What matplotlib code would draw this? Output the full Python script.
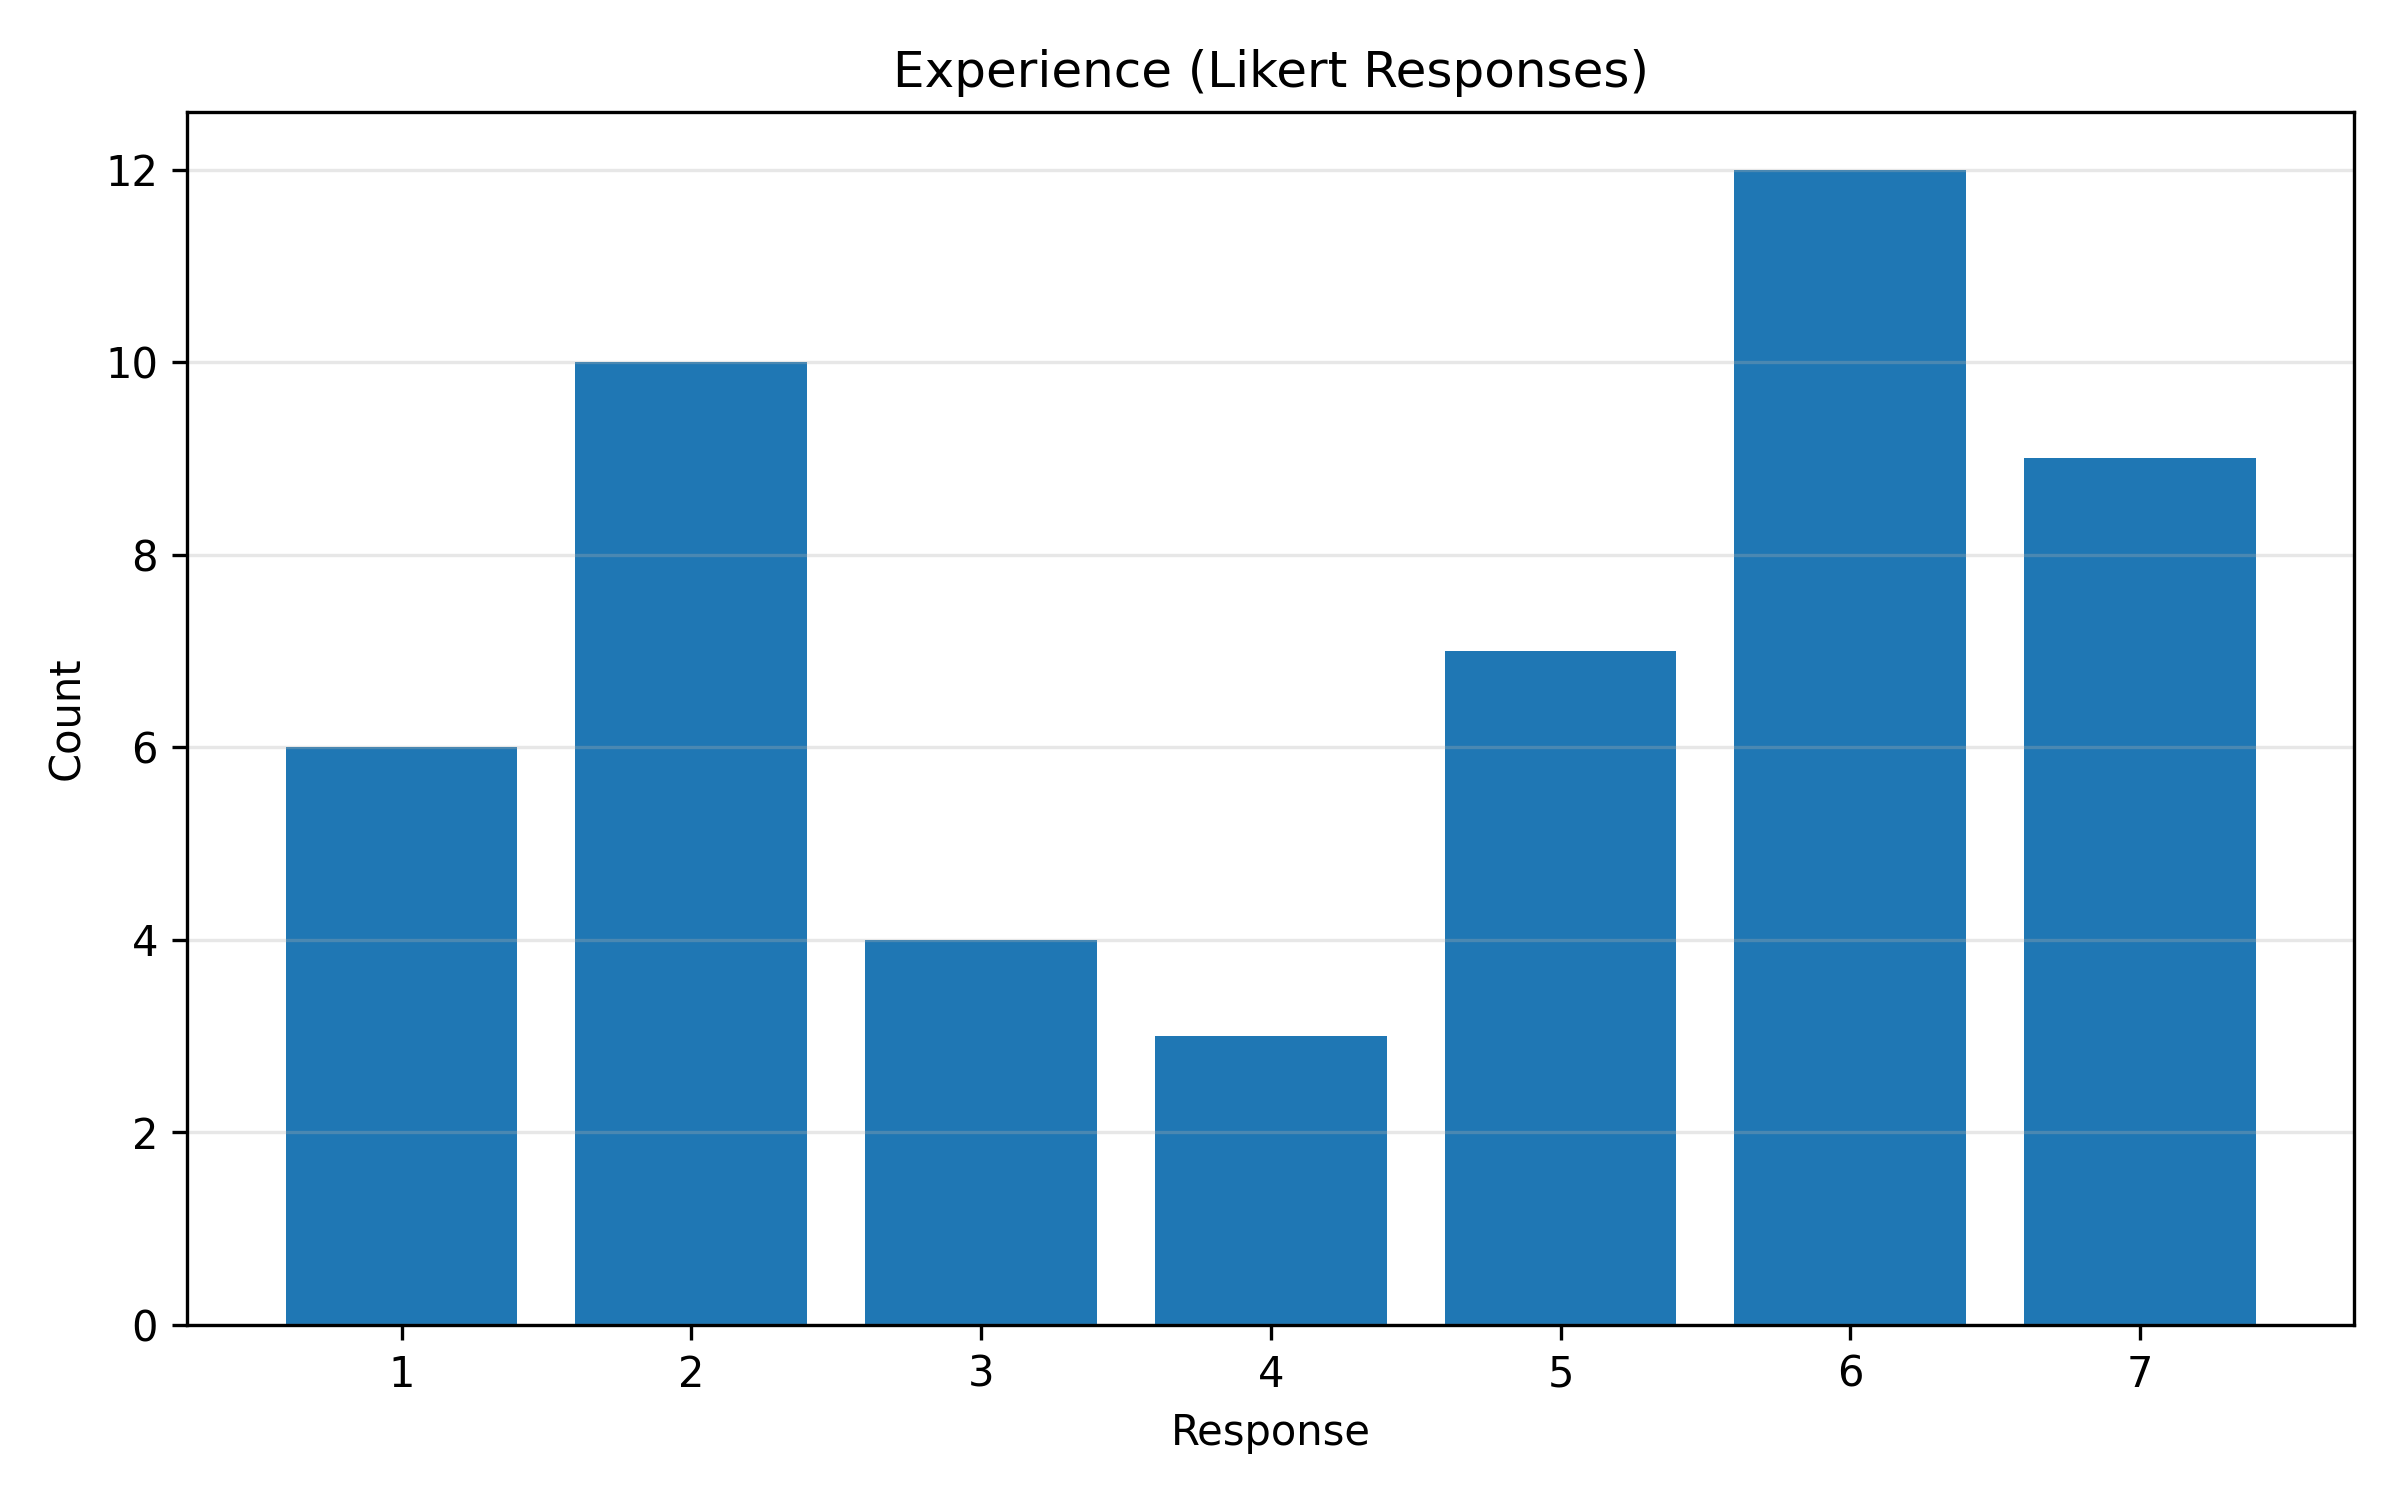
import matplotlib
matplotlib.use("Agg")
import matplotlib.pyplot as plt

# ------------------------- Data -------------------------
responses = [1, 2, 3, 4, 5, 6, 7]
counts = [6, 10, 4, 3, 7, 12, 9]

# ------------------------- Plot -------------------------
fig, ax = plt.subplots(figsize=(8, 5), dpi=300)
ax.bar(responses, counts, color="#1f77b4", width=0.8)
ax.set_xticks(responses)
ax.set_xlabel("Response")
ax.set_ylabel("Count")
ax.set_title("Experience (Likert Responses)")
ax.grid(axis="y", alpha=0.3)

plt.subplots_adjust(left=0.078, right=0.981, bottom=0.117, top=0.9253)
fig.savefig("out.png", dpi=300)
